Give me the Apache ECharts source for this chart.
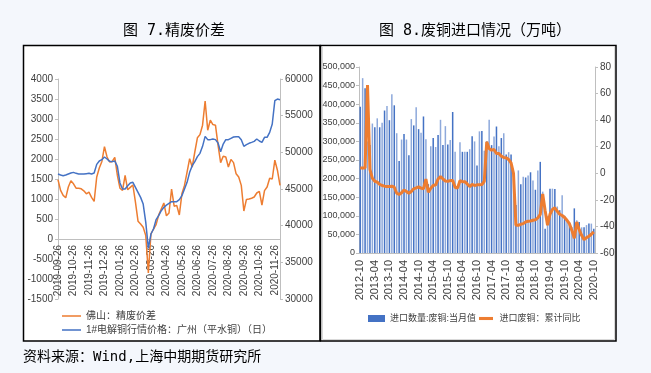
<!DOCTYPE html>
<html><head><meta charset="utf-8">
<script src="https://cdn.jsdelivr.net/npm/echarts@6/dist/echarts.min.js"></script>
<style>html,body{margin:0;padding:0;background:#F4F7FC}#c{width:651px;height:373px}</style>
</head><body><div id="c"></div>
<script>
// ---------- Figure 7: refined-scrap spread (daily, sampled) ----------
const dateCats = [
"2019-09-26",
"2019-10-01","2019-10-06","2019-10-11","2019-10-16","2019-10-21","2019-10-26",
"2019-11-01","2019-11-06","2019-11-11","2019-11-16","2019-11-21","2019-11-26",
"2019-12-01","2019-12-06","2019-12-11","2019-12-16","2019-12-21","2019-12-26",
"2020-01-01","2020-01-06","2020-01-11","2020-01-16","2020-01-21","2020-01-26",
"2020-02-01","2020-02-06","2020-02-11","2020-02-16","2020-02-21","2020-02-26",
"2020-03-01","2020-03-06","2020-03-11","2020-03-16","2020-03-21","2020-03-26",
"2020-04-01","2020-04-06","2020-04-11","2020-04-16","2020-04-21","2020-04-26",
"2020-05-01","2020-05-06","2020-05-11","2020-05-16","2020-05-21","2020-05-26",
"2020-06-01","2020-06-06","2020-06-11","2020-06-16","2020-06-21","2020-06-26",
"2020-07-01","2020-07-06","2020-07-11","2020-07-16","2020-07-21","2020-07-26",
"2020-08-01","2020-08-06","2020-08-11","2020-08-16","2020-08-21","2020-08-26",
"2020-09-01","2020-09-06","2020-09-11","2020-09-16","2020-09-21","2020-09-26",
"2020-10-01","2020-10-06","2020-10-11","2020-10-16","2020-10-21","2020-10-26",
"2020-11-01","2020-11-06","2020-11-11","2020-11-16","2020-11-21","2020-11-26",
"2020-12-01","2020-12-06"
];
const spreadFoshan = [
1480,
1215,1090,1030,1300,1455,1380,
1270,1270,1255,1205,1130,1170,
1040,940,1550,1775,1940,2310,
2050,1925,1940,2040,1590,1270,
1215,1590,1230,1290,1350,920,
445,375,295,85,-850,125,
250,360,600,750,900,580,
650,1250,820,840,600,1130,
1340,1670,2010,1800,2175,2530,
2610,2845,3450,2720,2970,2860,
2845,2345,1910,2070,2050,1800,
1990,1910,1630,1550,1340,700,
990,1000,1020,1050,1150,1190,
850,1210,1300,1520,1500,1970,
1720,1340
];
const copperGuangzhou = [
47045,
46910,46820,46910,47045,47180,47270,
47135,47045,47045,47045,47090,47135,
47045,47180,48360,48820,49000,49360,
49090,48770,48730,48820,48090,45820,
45000,45000,45450,45820,45910,45230,
44550,43860,42950,40450,36910,38860,
39545,40820,41360,42045,42500,42800,
43045,43270,43270,43270,43545,44090,
45000,45910,47270,48180,48730,49410,
49860,50820,52180,51730,51730,51820,
51730,51270,50090,51135,51730,51730,
51910,52090,52135,52135,51730,50820,
51045,51230,51360,51500,51820,51545,
51360,52045,52045,52725,53860,57045,
57270,57180
];
const spreadAxis = {min: -1500, max: 4000, interval: 500};
const copperAxis = {min: 30000, max: 60000, interval: 5000};

// ---------- Figure 8: scrap copper imports (monthly) ----------
const monthCats = [
"2012-10","2012-11","2012-12",
"2013-01","2013-02","2013-03","2013-04","2013-05","2013-06","2013-07","2013-08","2013-09","2013-10","2013-11","2013-12",
"2014-01","2014-02","2014-03","2014-04","2014-05","2014-06","2014-07","2014-08","2014-09","2014-10","2014-11","2014-12",
"2015-01","2015-02","2015-03","2015-04","2015-05","2015-06","2015-07","2015-08","2015-09","2015-10","2015-11","2015-12",
"2016-01","2016-02","2016-03","2016-04","2016-05","2016-06","2016-07","2016-08","2016-09","2016-10","2016-11","2016-12",
"2017-01","2017-02","2017-03","2017-04","2017-05","2017-06","2017-07","2017-08","2017-09","2017-10","2017-11","2017-12",
"2018-01","2018-02","2018-03","2018-04","2018-05","2018-06","2018-07","2018-08","2018-09","2018-10","2018-11","2018-12",
"2019-01","2019-02","2019-03","2019-04","2019-05","2019-06","2019-07","2019-08","2019-09","2019-10","2019-11","2019-12",
"2020-01","2020-02","2020-03","2020-04","2020-05","2020-06","2020-07","2020-08","2020-09","2020-10"
];
const scrapImports = [
393000,470000,443000,300000,290000,348000,338000,362000,338000,350000,
383000,395000,357000,427000,397000,322000,247000,305000,320000,305000,
263000,360000,343000,392000,333000,323000,367000,306000,185000,287000,
309000,285000,317000,358000,290000,341000,292000,304000,379000,272000,
175000,298000,272000,272000,272000,279000,314000,300000,235000,327000,
328000,275000,300000,358000,290000,313000,340000,287000,309000,322000,
265000,271000,265000,200000,129000,222000,185000,205000,203000,208000,
217000,195000,170000,222000,245000,165000,65000,100000,173000,173000,
172000,125000,115000,155000,100000,85000,78000,70000,120000,88000,
83000,69000,69000,75000,79000,79000,65000
];
const scrapYoY = [
4,4,4,66.5,3,-3.8,-6,-6.7,-8.3,-9.2,
-9.7,-10,-10,-9.7,-10.5,-15,-16,-14.7,-12.5,-13.7,
-15,-13.7,-11.7,-11,-10.2,-11.2,-11.7,-4.3,-14.2,-11.2,
-9.2,-8.7,-4.3,-2.5,-4.3,-5.8,-6,-5.5,-5.5,-10.5,
-11.2,-5.5,-6.3,-6.3,-8,-10,-8.3,-9.2,-8.7,-8.7,
-8.5,-6,23.7,18.7,17.4,17.9,14.9,14.9,12.9,11.9,
11.6,10.4,7.9,0,-39.1,-39.1,-38.4,-37.9,-36.6,-36.1,
-35.9,-35.4,-35,-33.5,-31,-15.5,-28,-39.1,-30.8,-27.3,
-26,-28.6,-30.8,-31.8,-33.3,-35.4,-37.9,-43,-49,-36.6,
-42.4,-46.7,-50,-48.4,-47.4,-45.9,-44.1
];
const importsAxis = {min: 0, max: 500000, interval: 50000};
const yoyAxis = {min: -60, max: 80, interval: 20};

const seriesNames = {
  spread: '佛山：精废价差',
  copper: '1#电解铜行情价格：广州（平水铜）（日）',
  imports: '进口数量:废铜:当月值',
  yoy: '进口废铜：累计同比'
};
const titles = ['图 7.精废价差', '图 8.废铜进口情况（万吨）'];
const sourceNote = '资料来源：Wind,上海中期期货研究所';

const NUM = '"Liberation Sans", Arial, sans-serif';
const CJK = '"DejaVu Sans Mono", "Noto Sans CJK SC", sans-serif';
const LEG = '"Liberation Sans", "Noto Sans CJK SC", sans-serif';
const AX = '#BFBFBF';
const LAB = '#404040';
const BAR_DARK = '#4472C4';
const BAR_LIGHT = '#8EA9DB';
const THIN_LINE_ICON = 'path://M0,0 M20,10 M0,4.2 L20,4.2 L20,5.8 L0,5.8 Z';
const THICK_LINE_ICON = 'path://M0,0 M20,10 M0,2.8 L20,2.8 L20,7.2 L0,7.2 Z';

const grid0 = {left: 58, top: 79, width: 222, height: 220};
const grid1 = {left: 359, top: 67, width: 236, height: 186};
// the date axis crosses the spread axis at value 0 (as in the source chart)
const zeroOffset = -(0 - spreadAxis.min) / (spreadAxis.max - spreadAxis.min) * grid0.height;

const chart = echarts.init(document.getElementById('c'), null, {renderer: 'canvas'});
const valAxis = (extra) => Object.assign({
  type: 'value', splitLine: {show: false},
  axisLine: {show: true, lineStyle: {color: AX}},
  axisTick: {show: true, length: 3, lineStyle: {color: AX}},
  axisLabel: {fontSize: 10, color: LAB, fontFamily: NUM, margin: 5, formatter: v => String(v)}
}, extra);

chart.setOption({
  animation: false,
  backgroundColor: '#F4F7FC',
  textStyle: {fontFamily: NUM},
  graphic: {elements: [
    {type: 'rect', z: -10, shape: {x: 23.5, y: 45.5, width: 296.5, height: 295.5}, style: {fill: '#fff', stroke: '#000', lineWidth: 1.5}},
    {type: 'rect', z: -10, shape: {x: 320.5, y: 45.5, width: 295.5, height: 295.5}, style: {fill: '#fff', stroke: '#000', lineWidth: 1.5}},
    {type: 'rect', z: -9, shape: {x: 322.5, y: 46.5, width: 292, height: 293}, style: {fill: 'none', stroke: '#D9D9D9', lineWidth: 1}},
    {type: 'text', x: 174, y: 31, style: {text: titles[0], font: '15px ' + CJK, fill: '#000', align: 'center', verticalAlign: 'middle'}},
    {type: 'text', x: 475, y: 31, style: {text: titles[1], font: '15px ' + CJK, fill: '#000', align: 'center', verticalAlign: 'middle'}},
    {type: 'text', x: 23, y: 357, style: {text: sourceNote, font: '14px ' + CJK, fill: '#000', align: 'left', verticalAlign: 'middle'}}
  ]},
  grid: [
    Object.assign({containLabel: false, outerBoundsMode: 'none'}, grid0),
    Object.assign({containLabel: false, outerBoundsMode: 'none'}, grid1)
  ],
  legend: [
    {data: [{name: seriesNames.spread, icon: THIN_LINE_ICON}, {name: seriesNames.copper, icon: THIN_LINE_ICON}],
     orient: 'vertical', left: 62, top: 311,
     itemWidth: 19, itemHeight: 10, itemGap: 4, padding: 0,
     textStyle: {fontSize: 10, color: LAB, fontFamily: LEG}},
    {data: [{name: seriesNames.imports, icon: 'rect', itemStyle: {color: BAR_DARK}}, {name: seriesNames.yoy, icon: THICK_LINE_ICON}],
     orient: 'horizontal', left: 368, top: 314,
     itemWidth: 17, itemHeight: 7, itemGap: 3, padding: 0,
     textStyle: {fontSize: 9, color: LAB, fontFamily: LEG}}
  ],
  xAxis: [
    {gridIndex: 0, type: 'category', data: dateCats, boundaryGap: false, position: 'bottom', offset: zeroOffset,
     axisLine: {onZero: false, lineStyle: {color: AX}}, axisTick: {show: false},
     axisLabel: {interval: (i, v) => v.slice(-2) === '26', rotate: 90, fontSize: 10, color: LAB, margin: 6, fontFamily: NUM}},
    {gridIndex: 1, type: 'category', data: monthCats, boundaryGap: true,
     axisLine: {lineStyle: {color: AX}},
     axisTick: {alignWithLabel: true, interval: 5, length: 4, lineStyle: {color: AX}},
     axisLabel: {interval: 5, rotate: 90, fontSize: 11, color: LAB, margin: 7, fontFamily: NUM}}
  ],
  yAxis: [
    valAxis(Object.assign({gridIndex: 0, position: 'left'}, spreadAxis)),
    valAxis(Object.assign({gridIndex: 0, position: 'right'}, copperAxis)),
    valAxis(Object.assign({gridIndex: 1, position: 'left',
      axisLabel: {fontSize: 9, color: LAB, fontFamily: NUM, margin: 4, formatter: v => v.toLocaleString('en-US')}}, importsAxis)),
    valAxis(Object.assign({gridIndex: 1, position: 'right'}, yoyAxis))
  ],
  series: [
    {name: seriesNames.spread, type: 'line', xAxisIndex: 0, yAxisIndex: 0, data: spreadFoshan,
     symbol: 'none', lineStyle: {width: 1.5, color: '#ED7D31'}, itemStyle: {color: '#ED7D31'}},
    {name: seriesNames.copper, type: 'line', xAxisIndex: 0, yAxisIndex: 1, data: copperGuangzhou,
     symbol: 'none', lineStyle: {width: 1.5, color: '#4472C4'}, itemStyle: {color: '#4472C4'}},
    {name: seriesNames.imports, type: 'bar', xAxisIndex: 1, yAxisIndex: 2, data: scrapImports,
     barWidth: '62%', itemStyle: {color: p => (p.dataIndex % 2 ? BAR_LIGHT : BAR_DARK)}},
    {name: seriesNames.yoy, type: 'line', xAxisIndex: 1, yAxisIndex: 3, data: scrapYoY, z: 5,
     symbol: 'none', lineStyle: {width: 3, color: '#ED7D31'}, itemStyle: {color: '#ED7D31'}}
  ]
});
</script></body></html>
